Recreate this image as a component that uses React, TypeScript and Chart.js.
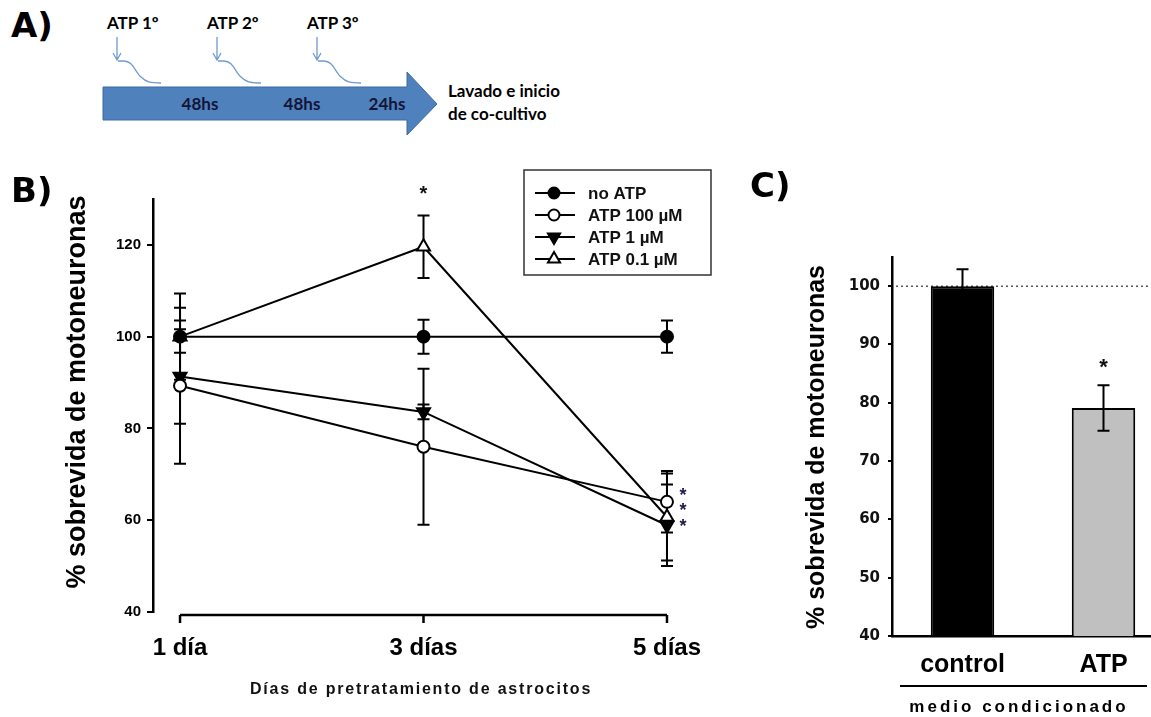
import React, { useEffect, useRef } from 'react';
import { Chart, registerables } from 'chart.js';

Chart.register(...registerables);

// ---------- Panel B data ----------
const dayValues = [1, 3, 5];
const dayLabels = ['1 día', '3 días', '5 días'];
const seriesNames = ['no ATP', 'ATP 100 µM', 'ATP 1 µM', 'ATP 0.1 µM'];
const noAtpMean = [100, 100, 100];
const noAtpErr = [3.5, 3.7, 3.5];
const atp100Mean = [89.3, 76, 64];
const atp100Err = [17, 17, 6.7];
const atp1Mean = [91.3, 83.6, 58.9];
const atp1Err = [10.3, 1.6, 8.9];
const atp01Mean = [100, 119.6, 60.7];
const atp01Err = [9.4, 6.8, 9.5];
const yTicksB = [40, 60, 80, 100, 120];
const yRangeB = [40, 130];
const xRangeB = [0.778, 5.378];
const yTitleB = '% sobrevida de motoneuronas';
const xTitleB = 'Días de pretratamiento de astrocitos';

// ---------- Panel C data ----------
const groupsC = ['control', 'ATP'];
const meanC = [100, 79.1];
const errC = [2.9, 3.9];
const yTicksC = [40, 50, 60, 70, 80, 90, 100];
const yRangeC = [40, 105];
const refLineC = 100;
const yTitleC = '% sobrevida de motoneuronas';
const groupTitleC = 'medio condicionado';

// ---------- Panel A labels ----------
const pulseLabels = ['ATP 1º', 'ATP 2º', 'ATP 3º'];
const intervalLabels = ['48hs', '48hs', '24hs'];
const endLabels = ['Lavado e inicio', 'de co-cultivo'];

const SANS = "'Liberation Sans', Arial, Helvetica, sans-serif";
const VERD = "'DejaVu Sans', Verdana, sans-serif";

function drawStar(ctx: CanvasRenderingContext2D, x: number, y: number, size: number, color = '#111') {
  ctx.save();
  ctx.font = `bold ${size}px ${SANS}`;
  ctx.fillStyle = color;
  ctx.textAlign = 'center';
  ctx.textBaseline = 'alphabetic';
  ctx.fillText('*', x, y + 0.58 * size);
  ctx.restore();
}

function drawErrorBars(chart: any) {
  const ctx = chart.ctx;
  const ys = chart.scales.y;
  chart.data.datasets.forEach((ds: any, di: number) => {
    const errs = ds.errors;
    if (!errs) return;
    const meta = chart.getDatasetMeta(di);
    meta.data.forEach((el: any, i: number) => {
      const raw = ds.data[i];
      const val = typeof raw === 'number' ? raw : raw.y;
      const e = errs[i];
      const x = el.x;
      const yt = ys.getPixelForValue(val + e);
      const yb = ys.getPixelForValue(val - e);
      ctx.save();
      ctx.strokeStyle = '#000';
      ctx.lineWidth = 2;
      ctx.beginPath();
      ctx.moveTo(x, yt);
      ctx.lineTo(x, yb);
      ctx.moveTo(x - 6, yt);
      ctx.lineTo(x + 6, yt);
      ctx.moveTo(x - 6, yb);
      ctx.lineTo(x + 6, yb);
      ctx.stroke();
      ctx.restore();
    });
  });
}

function drawMarker(ctx: CanvasRenderingContext2D, shape: string, x: number, y: number, r: number, fill: string, rotation: number) {
  ctx.save();
  ctx.fillStyle = fill;
  ctx.strokeStyle = '#000';
  ctx.lineWidth = 2;
  ctx.beginPath();
  if (shape === 'circle') {
    ctx.arc(x, y, r, 0, Math.PI * 2);
  } else {
    let rad = (rotation * Math.PI) / 180;
    ctx.moveTo(x + Math.sin(rad) * r, y - Math.cos(rad) * r);
    rad += (2 * Math.PI) / 3;
    ctx.lineTo(x + Math.sin(rad) * r, y - Math.cos(rad) * r);
    rad += (2 * Math.PI) / 3;
    ctx.lineTo(x + Math.sin(rad) * r, y - Math.cos(rad) * r);
    ctx.closePath();
  }
  ctx.fill();
  ctx.stroke();
  ctx.restore();
}

function ChartB() {
  const ref = useRef<HTMLCanvasElement>(null);
  useEffect(() => {
    const canvas = ref.current;
    if (!canvas) return;
    const styles = [
      { shape: 'circle', r: 6, fill: '#000', rotation: 0 },
      { shape: 'circle', r: 6, fill: '#fff', rotation: 0 },
      { shape: 'triangle', r: 7.5, fill: '#000', rotation: 180 },
      { shape: 'triangle', r: 7.5, fill: '#fff', rotation: 0 },
    ];
    const means = [noAtpMean, atp100Mean, atp1Mean, atp01Mean];
    const errs = [noAtpErr, atp100Err, atp1Err, atp01Err];
    const datasets = seriesNames.map((name, k) => ({
      label: name,
      data: dayValues.map((d, i) => ({ x: d, y: means[k][i] })),
      errors: errs[k],
      markerStyle: styles[k],
      borderColor: '#000',
      borderWidth: 2,
      pointStyle: styles[k].shape,
      rotation: styles[k].rotation,
      pointRadius: styles[k].r,
      pointHoverRadius: styles[k].r,
      pointBackgroundColor: styles[k].fill,
      pointBorderColor: '#000',
      pointBorderWidth: 2,
      fill: false,
      tension: 0,
    }));

    const plugin = {
      id: 'panelB',
      beforeDatasetsDraw(chart: any) {
        drawErrorBars(chart);
      },
      afterDraw(chart: any) {
        const ctx = chart.ctx as CanvasRenderingContext2D;
        const xs = chart.scales.x;
        const ys = chart.scales.y;
        const ca = chart.chartArea;
        // range-frame x axis
        const x0 = xs.getPixelForValue(dayValues[0]);
        const x1 = xs.getPixelForValue(dayValues[dayValues.length - 1]);
        const yAx = ca.bottom + 3;
        ctx.save();
        ctx.strokeStyle = '#000';
        ctx.lineWidth = 2.5;
        ctx.beginPath();
        ctx.moveTo(x0, yAx);
        ctx.lineTo(x1, yAx);
        dayValues.forEach((d) => {
          const px = xs.getPixelForValue(d);
          ctx.moveTo(px, yAx);
          ctx.lineTo(px, yAx + 8);
        });
        ctx.stroke();
        ctx.restore();

        // legend box
        const lx = 524, ly = 10, lw = 187, lh = 105;
        ctx.save();
        ctx.strokeStyle = '#333';
        ctx.lineWidth = 1.5;
        ctx.strokeRect(lx, ly, lw, lh);
        chart.data.datasets.forEach((ds: any, k: number) => {
          const yy = 33 + k * 22;
          ctx.strokeStyle = '#000';
          ctx.lineWidth = 2;
          ctx.beginPath();
          ctx.moveTo(535, yy);
          ctx.lineTo(575, yy);
          ctx.stroke();
          const st = ds.markerStyle;
          drawMarker(ctx, st.shape, 554, yy, st.shape === 'circle' ? 5.5 : 7, st.fill, st.rotation);
          ctx.fillStyle = '#111';
          ctx.font = `bold 17px ${SANS}`;
          ctx.textAlign = 'left';
          ctx.textBaseline = 'middle';
          ctx.fillText(ds.label, 588, yy + 1);
        });
        ctx.restore();

        // significance stars
        const d3 = xs.getPixelForValue(dayValues[1]);
        drawStar(ctx, d3, ys.getPixelForValue(atp01Mean[1] + atp01Err[1]) - 27, 20);
        const d5 = xs.getPixelForValue(dayValues[2]) + 16;
        const yAnchor = ys.getPixelForValue(atp100Mean[2]);
        [-11, 4, 20].forEach((off) => drawStar(ctx, d5, yAnchor + off, 18, '#1c1c4a'));

        // axis titles
        ctx.save();
        ctx.fillStyle = '#000';
        ctx.font = `bold 27px ${SANS}`;
        ctx.textAlign = 'center';
        ctx.textBaseline = 'middle';
        ctx.translate(78, 232);
        ctx.rotate(-Math.PI / 2);
        ctx.fillText(yTitleB, 0, 0);
        ctx.restore();

        ctx.save();
        ctx.fillStyle = '#111';
        ctx.font = `bold 16px ${SANS}`;
        (ctx as any).letterSpacing = '1.8px';
        ctx.textAlign = 'center';
        ctx.textBaseline = 'middle';
        ctx.fillText(xTitleB, 421, 530);
        ctx.restore();
      },
    };

    const chart = new Chart(canvas, {
      type: 'line',
      data: { datasets: datasets as any },
      options: {
        animation: false,
        responsive: false,
        devicePixelRatio: 1,
        layout: { padding: { top: 39, right: 17, left: 0, bottom: 0 } },
        plugins: { legend: { display: false }, tooltip: { enabled: false } },
        scales: {
          x: {
            type: 'linear',
            min: xRangeB[0],
            max: xRangeB[1],
            afterBuildTicks: (s: any) => {
              s.ticks = dayValues.map((v) => ({ value: v }));
            },
            afterFit: (s: any) => {
              s.height = 105;
            },
            grid: { display: false, drawTicks: false },
            border: { display: false },
            ticks: {
              autoSkip: false,
              maxRotation: 0,
              padding: 22,
              color: '#000',
              font: { family: SANS, size: 24, weight: 'bold' },
              callback: (v: any) => dayLabels[dayValues.indexOf(Number(v))] ?? '',
            },
          },
          y: {
            min: yRangeB[0],
            max: yRangeB[1],
            afterBuildTicks: (s: any) => {
              s.ticks = yTicksB.map((v) => ({ value: v }));
            },
            afterFit: (s: any) => {
              s.width = 153;
            },
            grid: { display: true, drawOnChartArea: false, drawTicks: true, tickLength: 6, color: '#000', lineWidth: 2 },
            border: { display: true, color: '#000', width: 2.5 },
            ticks: {
              padding: 6,
              color: '#000',
              font: { family: SANS, size: 15, weight: 'bold' },
            },
          },
        },
      },
      plugins: [plugin],
    });
    return () => chart.destroy();
  }, []);
  return <canvas ref={ref} width={730} height={557} style={{ width: 730, height: 557, display: 'block' }} />;
}

function ChartC() {
  const ref = useRef<HTMLCanvasElement>(null);
  useEffect(() => {
    const canvas = ref.current;
    if (!canvas) return;
    const plugin = {
      id: 'panelC',
      beforeDatasetsDraw(chart: any) {
        const ctx = chart.ctx as CanvasRenderingContext2D;
        const y = chart.scales.y.getPixelForValue(refLineC);
        ctx.save();
        ctx.strokeStyle = '#555';
        ctx.lineWidth = 1.5;
        ctx.setLineDash([2, 3]);
        ctx.beginPath();
        ctx.moveTo(chart.chartArea.left + 4, y);
        ctx.lineTo(chart.width, y);
        ctx.stroke();
        ctx.restore();
      },
      afterDatasetsDraw(chart: any) {
        drawErrorBars(chart);
      },
      afterDraw(chart: any) {
        const ctx = chart.ctx as CanvasRenderingContext2D;
        const ys = chart.scales.y;
        const meta = chart.getDatasetMeta(0);
        const atpEl = meta.data[1];
        drawStar(ctx, atpEl.x, ys.getPixelForValue(meanC[1] + errC[1]) - 24, 22);

        // group line and title
        ctx.save();
        ctx.strokeStyle = '#000';
        ctx.lineWidth = 2;
        ctx.beginPath();
        ctx.moveTo(160, 516);
        ctx.lineTo(407, 516);
        ctx.stroke();
        ctx.fillStyle = '#000';
        ctx.font = `bold 17px ${SANS}`;
        (ctx as any).letterSpacing = '3px';
        ctx.textAlign = 'center';
        ctx.textBaseline = 'middle';
        ctx.fillText(groupTitleC, 279, 537);
        ctx.restore();

        ctx.save();
        ctx.fillStyle = '#000';
        ctx.font = `bold 25px ${SANS}`;
        ctx.textAlign = 'center';
        ctx.textBaseline = 'middle';
        ctx.translate(77, 277);
        ctx.rotate(-Math.PI / 2);
        ctx.fillText(yTitleC, 0, 0);
        ctx.restore();
      },
    };
    const chart = new Chart(canvas, {
      type: 'bar',
      data: {
        labels: groupsC,
        datasets: [
          {
            data: meanC,
            errors: errC,
            backgroundColor: ['#000000', '#c0c0c0'],
            borderColor: '#000',
            borderWidth: 2,
            barPercentage: 0.45,
            categoryPercentage: 1,
          } as any,
        ],
      },
      options: {
        animation: false,
        responsive: false,
        devicePixelRatio: 1,
        layout: { padding: { top: 87, right: 16, left: 0, bottom: 0 } },
        plugins: { legend: { display: false }, tooltip: { enabled: false } },
        scales: {
          x: {
            afterFit: (s: any) => {
              s.height = 81;
            },
            grid: { display: false, drawTicks: false },
            border: { display: true, color: '#000', width: 2.5 },
            ticks: {
              padding: 14,
              color: '#000',
              font: { family: SANS, size: 25, weight: 'bold' },
            },
          },
          y: {
            min: yRangeC[0],
            max: yRangeC[1],
            afterBuildTicks: (s: any) => {
              s.ticks = yTicksC.map((v) => ({ value: v }));
            },
            afterFit: (s: any) => {
              s.width = 152;
            },
            grid: { display: true, drawOnChartArea: false, drawTicks: true, tickLength: 4, color: '#000', lineWidth: 2 },
            border: { display: true, color: '#000', width: 2.5 },
            ticks: {
              padding: 8,
              color: '#111',
              font: { family: VERD, size: 15, weight: 'bold' },
            },
          },
        },
      },
      plugins: [plugin],
    });
    return () => chart.destroy();
  }, []);
  return <canvas ref={ref} width={450} height={547} style={{ width: 450, height: 547, display: 'block' }} />;
}

function PanelA() {
  const intervalX = [200, 302, 387];
  return (
    <svg width={600} height={150} style={{ position: 'absolute', left: 0, top: 0 }}>
      {pulseLabels.map((t, i) => {
        const x = 117 + i * 100;
        return (
          <g key={t}>
            <text x={x - 10} y={29} fontFamily="Lato, 'Open Sans', sans-serif" fontWeight="bold" fontSize={17} fill="#000">
              {t}
            </text>
            <path d={`M ${x} 37 L ${x} 60 M ${x - 4} 53 L ${x} 60 L ${x + 4} 53`} stroke="#6f9bd1" strokeWidth={1.3} fill="none" />
            <path
              d={`M ${x + 1} 61 L ${x + 7} 61 C ${x + 16} 61, ${x + 18} 72, ${x + 24} 77 C ${x + 29} 82, ${x + 33} 83, ${x + 44} 83`}
              stroke="#6f9bd1"
              strokeWidth={1.3}
              fill="none"
            />
          </g>
        );
      })}
      <polygon points="103,87 407,87 407,72 437,104 407,135 407,120 103,120" fill="#4f81bd" stroke="#3c6ba5" strokeWidth={1} />
      {intervalLabels.map((t, i) => (
        <text key={i} x={intervalX[i]} y={110} textAnchor="middle" fontFamily="Lato, 'Open Sans', sans-serif" fontWeight="bold" fontSize={17} fill="#141437">
          {t}
        </text>
      ))}
      {endLabels.map((t, i) => (
        <text key={t} x={448} y={97 + i * 23} fontFamily="Lato, 'Open Sans', sans-serif" fontWeight="bold" fontSize={17} fill="#000">
          {t}
        </text>
      ))}
    </svg>
  );
}

const panelLabel = (left: number, top: number): React.CSSProperties => ({
  position: 'absolute',
  left,
  top,
  fontFamily: VERD,
  fontWeight: 'bold',
  fontSize: 34,
  lineHeight: '34px',
  color: '#000',
});

export default function App() {
  return (
    <div style={{ position: 'absolute', left: 0, top: 0, width: 1151, height: 717, overflow: 'hidden', background: '#fff' }}>
      <PanelA />
      <div style={{ position: 'absolute', left: 0, top: 160, width: 730, height: 557 }}>
        <ChartB />
      </div>
      <div style={{ position: 'absolute', left: 740, top: 170, width: 411, height: 547, overflow: 'hidden' }}>
        <ChartC />
      </div>
      <div style={panelLabel(11, 8)}>A)</div>
      <div style={panelLabel(11, 173)}>B)</div>
      <div style={panelLabel(750, 168)}>C)</div>
    </div>
  );
}
